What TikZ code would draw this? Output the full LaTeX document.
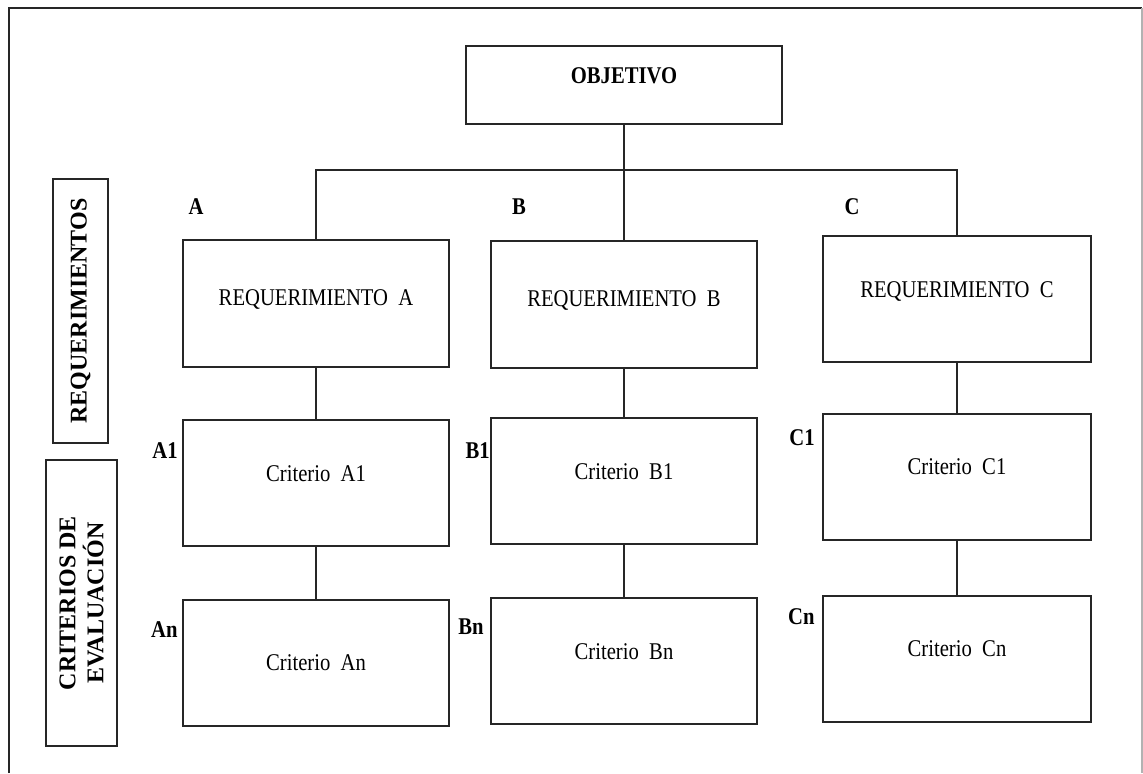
\documentclass[tikz,border=0pt]{standalone}
\usepackage{fontspec}
\setmainfont{Liberation Serif}[FakeStretch=0.86]
\newfontfamily\sidefont{Liberation Serif}
\usetikzlibrary{positioning}
\newcommand{\basefont}{\fontsize{12}{14}\selectfont}
\tikzset{
  box/.style={rectangle, draw=black!85, line width=1pt, minimum width=133pt, minimum height=63pt,
    inner sep=0pt, font=\basefont, text height=8pt, text depth=10pt},
  reqbox/.style={box, minimum height=63.5pt, text depth=6pt},
  tag/.style={inner sep=0pt, font=\basefont\bfseries},
  sidebox/.style={rectangle, draw=black!85, line width=1pt, rotate=90, inner sep=0pt,
    align=center, font=\fontsize{12}{14}\selectfont\sidefont\bfseries},
  link/.style={draw=black!85, line width=1pt},
}
\begin{document}
\begin{tikzpicture}[x=0.5pt, y=-0.5pt]
  \useasboundingbox (0,0) rectangle (1143,773);

  % Frame
  \draw[black!85, line width=1pt] (9,773) -- (9,8) -- (1142,8);
  \draw[black!30, line width=1pt] (1142,8) -- (1142,773);

  % Side labels
  \node (sideReq) [sidebox, minimum width=132pt, minimum height=27.5pt] at (80.5,311) {REQUERIMIENTOS};
  \node (sideCrit) [sidebox, minimum width=143pt, minimum height=35.5pt] at (81.5,603) {CRITERIOS DE\\EVALUACIÓN};

  % Nodes
  \node (obj) [box, minimum width=158pt, minimum height=39pt, font=\basefont\bfseries] at (624,85) {OBJETIVO};
  \node (reqA) [reqbox] at (316,303.5) {REQUERIMIENTO~~A};
  \node (reqB) [reqbox] at (624,304) {REQUERIMIENTO~~B};
  \node (reqC) [box, minimum width=134pt] at (957,299) {REQUERIMIENTO~~C};
  \node (critA1) [box] at (316,483) {Criterio~~A1};
  \node (critB1) [box] at (624,481) {Criterio~~B1};
  \node (critC1) [box, minimum width=134pt] at (957,476.5) {Criterio~~C1};
  \node (critAn) [box, text depth=0pt] at (316,662.5) {Criterio~~An};
  \node (critBn) [box] at (624,661) {Criterio~~Bn};
  \node (critCn) [box, minimum width=134pt] at (957,658.5) {Criterio~~Cn};

  % Tags
  \node (tagA) [tag] at (196,207) {A};
  \node (tagB) [tag] at (519,207) {B};
  \node (tagC) [tag] at (852,207) {C};
  \node (tagA1) [tag, left=2pt] at ([yshift=-16pt]critA1.north west) {A1};
  \node (tagB1) [tag, left=0pt] at ([yshift=-17pt]critB1.north west) {B1};
  \node (tagC1) [tag, left=3.5pt] at ([yshift=-12.5pt]critC1.north west) {C1};
  \node (tagAn) [tag, left=2pt] at ([yshift=-15.5pt]critAn.north west) {An};
  \node (tagBn) [tag, left=3pt] at ([yshift=-15pt]critBn.north west) {Bn};
  \node (tagCn) [tag, left=3.5pt] at ([yshift=-11pt]critCn.north west) {Cn};

  % Connectors
  \coordinate (bus) at (624,170);
  \draw[link] (obj) -- (bus);
  \draw[link] (bus) -| (reqA);
  \draw[link] (bus) -- (reqB);
  \draw[link] (bus) -| (reqC);
  \draw[link] (reqA) -- (critA1);
  \draw[link] (reqB) -- (critB1);
  \draw[link] (reqC) -- (critC1);
  \draw[link] (critA1) -- (critAn);
  \draw[link] (critB1) -- (critBn);
  \draw[link] (critC1) -- (critCn);

\end{tikzpicture}
\end{document}
